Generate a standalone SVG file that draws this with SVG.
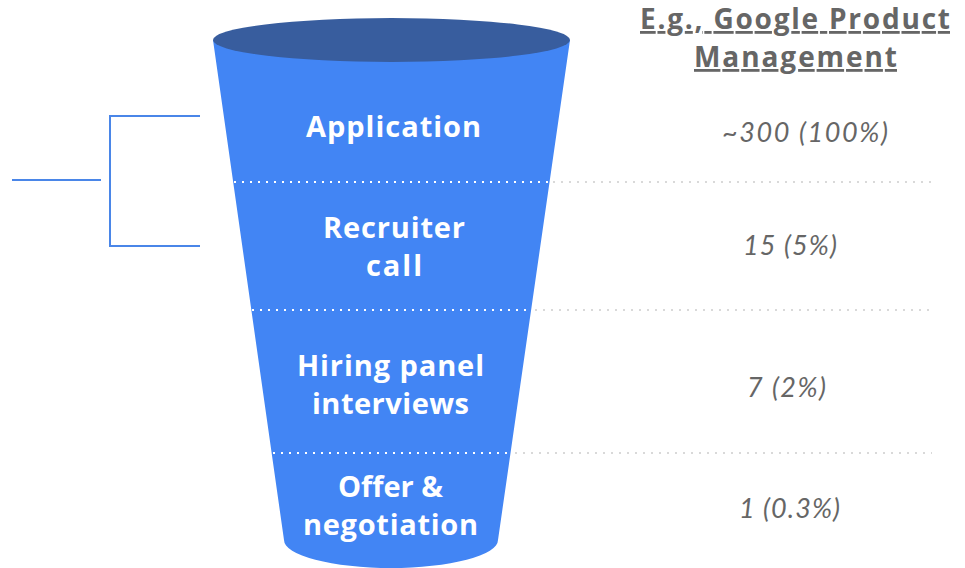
<svg xmlns="http://www.w3.org/2000/svg" width="965" height="568" viewBox="0 0 965 568">
<style>
.stage{font-family:"Open Sans","Lato","Liberation Sans",sans-serif;font-weight:bold;font-size:29px;fill:#ffffff;text-anchor:middle}
.num{font-family:"Lato","Open Sans","Liberation Sans",sans-serif;font-style:italic;font-size:27px;fill:#666666;text-anchor:middle}
.head{font-family:"Open Sans","Lato","Liberation Sans",sans-serif;font-weight:bold;font-size:28px;fill:#666666;text-anchor:middle;text-decoration:underline}
.dotw{stroke:#ffffff;stroke-width:2;stroke-dasharray:2 6}
.dotg{stroke:#d9d9d9;stroke-width:2;stroke-dasharray:2 6}
.br{stroke:#4a86e8;stroke-width:2;fill:none}
</style>
<rect width="965" height="568" fill="#ffffff"/>
<g id="funnel">
<path d="M213,40 L570,40 L498,540 A107,28 0 0 1 284,540 Z" fill="#4285f4"/>
<ellipse cx="391.5" cy="40" rx="178.5" ry="22" fill="#385d9e"/>
</g>
<g id="connectors">
<line class="dotw" x1="234" y1="182" x2="550" y2="182"/>
<line class="dotg" x1="553" y1="182" x2="932" y2="182"/>
<line class="dotw" x1="252" y1="310" x2="530" y2="310"/>
<line class="dotg" x1="535" y1="310" x2="932" y2="310"/>
<line class="dotw" x1="273" y1="453" x2="510" y2="453"/>
<line class="dotg" x1="515" y1="453" x2="932" y2="453"/>
<path class="br" d="M200,116 H110 V246 H200"/>
<line class="br" x1="12" y1="180" x2="101" y2="180"/>
</g>
<g id="header"><text class="head" x="795" y="29" textLength="310" lengthAdjust="spacing">E.g., Google Product</text><text class="head" x="795.5" y="67" textLength="203" lengthAdjust="spacing">Management</text></g>
<g id="application"><text class="stage" x="393.5" y="137" textLength="175" lengthAdjust="spacing">Application</text><text class="num" x="805" y="142" textLength="166" lengthAdjust="spacing">~300 (100%)</text></g>
<g id="recruiter"><text class="stage" x="394" y="238" textLength="142" lengthAdjust="spacing">Recruiter</text><text class="stage" x="394" y="276" textLength="56" lengthAdjust="spacing">call</text><text class="num" x="790" y="255" textLength="94" lengthAdjust="spacing">15 (5%)</text></g>
<g id="hiring"><text class="stage" x="390.5" y="376" textLength="187" lengthAdjust="spacing">Hiring panel</text><text class="stage" x="390.5" y="414" textLength="157" lengthAdjust="spacing">interviews</text><text class="num" x="786.5" y="397" textLength="79" lengthAdjust="spacing">7 (2%)</text></g>
<g id="offer"><text class="stage" x="390.5" y="497" textLength="105" lengthAdjust="spacing">Offer &amp;</text><text class="stage" x="390.5" y="535" textLength="175" lengthAdjust="spacing">negotiation</text><text class="num" x="789.5" y="518" textLength="101" lengthAdjust="spacing">1 (0.3%)</text></g>
</svg>
